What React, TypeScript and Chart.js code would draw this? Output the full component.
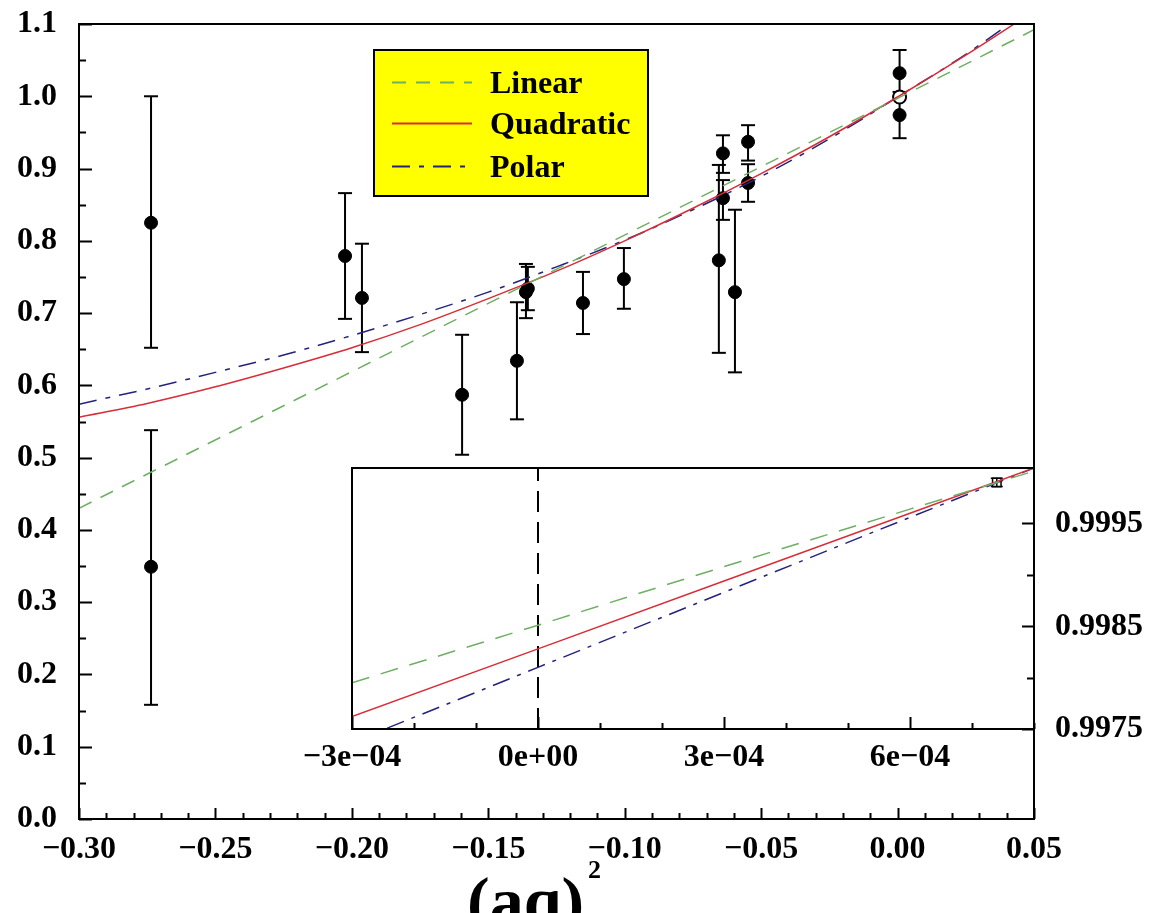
import React, { useEffect, useRef } from "react";
import { Chart, registerables } from "chart.js";
Chart.register(...registerables);

// ---------------- Data ----------------
// Main panel fit curves
const curveX = [-0.300, -0.275, -0.250, -0.225, -0.200, -0.175, -0.150, -0.125, -0.100, -0.075, -0.050, -0.025, 0.000, 0.025, 0.050];
const quadraticY = [0.556, 0.575, 0.598, 0.624, 0.652, 0.684, 0.720, 0.758, 0.800, 0.845, 0.893, 0.944, 0.999, 1.057, 1.118];
const polarY = [0.574, 0.595, 0.618, 0.642, 0.669, 0.698, 0.729, 0.764, 0.801, 0.843, 0.889, 0.941, 0.999, 1.058, 1.125];
const linearX = [-0.30, 0.00, 0.05];
const linearY = [0.430, 0.997, 1.092];

// Main panel data points with error bars
const pointX = [-0.2736, -0.2736, -0.2025, -0.1963, -0.1596, -0.1395, -0.1362, -0.1355, -0.1153, -0.1003, -0.0655, -0.0640, -0.0640, -0.0596, -0.0548, -0.0548, 0.00074, 0.00074];
const pointY = [0.825, 0.349, 0.779, 0.721, 0.587, 0.634, 0.729, 0.734, 0.714, 0.747, 0.773, 0.921, 0.859, 0.729, 0.937, 0.880, 1.032, 0.974];
const pointLo = [0.652, 0.158, 0.692, 0.646, 0.504, 0.553, 0.693, 0.704, 0.671, 0.706, 0.645, 0.894, 0.829, 0.618, 0.911, 0.854, 1.000, 0.942];
const pointHi = [1.000, 0.538, 0.866, 0.796, 0.670, 0.715, 0.768, 0.764, 0.757, 0.790, 0.905, 0.946, 0.884, 0.843, 0.960, 0.906, 1.064, 1.006];
const openX = [0.00074];
const openY = [0.999];

// Inset panel
const insetX = [-0.0003, 0.0000, 0.0003, 0.0006, 0.0008];
const insetLinearY = [0.99795, 0.99851, 0.99908, 0.99964, 1.00001];
const insetQuadraticY = [0.99762, 0.99828, 0.99894, 0.99960, 1.00004];
const insetPolarY = [0.99737, 0.99810, 0.99883, 0.99956, 1.00004];
const insetPointX = [0.00074];
const insetPointY = [0.99990];
const insetPointLo = [0.99986];
const insetPointHi = [0.99994];
const insetZeroLineY = [0.9975, 1.00004];

// Ticks and labels
const mainXTicks = [-0.30, -0.25, -0.20, -0.15, -0.10, -0.05, 0.00, 0.05];
const mainXTickLabels = ["\u22120.30", "\u22120.25", "\u22120.20", "\u22120.15", "\u22120.10", "\u22120.05", "0.00", "0.05"];
const mainYTicks = [0.0, 0.1, 0.2, 0.3, 0.4, 0.5, 0.6, 0.7, 0.8, 0.9, 1.0, 1.1];
const mainYTickLabels = ["0.0", "0.1", "0.2", "0.3", "0.4", "0.5", "0.6", "0.7", "0.8", "0.9", "1.0", "1.1"];
const insetXTicks = [-0.0003, 0.0, 0.0003, 0.0006];
const insetXTickLabels = ["\u22123e\u221204", "0e+00", "3e\u221204", "6e\u221204"];
const insetYTicks = [0.9975, 0.9985, 0.9995];
const insetYTickLabels = ["0.9975", "0.9985", "0.9995"];
const insetYMinorTicks = [0.998, 0.999];
const legendLabels = ["Linear", "Quadratic", "Polar"];
const axisTitle = "(aq)";
const axisTitleSup = "2";

// ---------------- Styles ----------------
const FONT = '"Liberation Serif", "Times New Roman", serif';
const GREEN = "rgb(110,175,100)";
const RED = "rgb(215,45,55)";
const BLUE = "rgb(35,35,125)";

const pts = (xs: number[], ys: number[]) => xs.map((x, i) => ({ x, y: ys[i] }));
const errPts = (xs: number[], lo: number[], hi: number[]) => {
  const out: { x: number; y: number }[] = [];
  xs.forEach((x, i) => {
    out.push({ x, y: lo[i] });
    out.push({ x, y: hi[i] });
    out.push({ x, y: NaN });
  });
  return out;
};

const fixSize = (prop: "width" | "height", size: number) => (s: any) => {
  s[prop] = size;
  s.paddingTop = 0;
  s.paddingBottom = 0;
  s.paddingLeft = 0;
  s.paddingRight = 0;
};

type TickSpec = { scale: string; side: "bottom" | "left" | "right"; major: number[]; minor: number[]; majorLen: number; minorLen: number };

const frameTicksPlugin = (specs: TickSpec[], fillWhite: boolean) => ({
  id: "frameTicks",
  beforeDraw(chart: any) {
    if (!fillWhite) return;
    const a = chart.chartArea;
    const ctx = chart.ctx;
    ctx.save();
    ctx.fillStyle = "#fff";
    ctx.fillRect(a.left, a.top, a.right - a.left, a.bottom - a.top);
    ctx.restore();
  },
  afterDraw(chart: any) {
    const a = chart.chartArea;
    const ctx = chart.ctx;
    ctx.save();
    ctx.strokeStyle = "#000";
    ctx.lineWidth = 2;
    ctx.strokeRect(a.left, a.top, a.right - a.left, a.bottom - a.top);
    ctx.beginPath();
    specs.forEach((s) => {
      const sc = chart.scales[s.scale];
      const draw = (v: number, len: number) => {
        const p = Math.round(sc.getPixelForValue(v)) + 0.5;
        if (s.side === "bottom") {
          ctx.moveTo(p, a.bottom);
          ctx.lineTo(p, a.bottom - len);
        } else if (s.side === "left") {
          ctx.moveTo(a.left, p);
          ctx.lineTo(a.left + len, p);
        } else {
          ctx.moveTo(a.right, p);
          ctx.lineTo(a.right - len, p);
        }
      };
      s.major.forEach((v) => draw(v, s.majorLen));
      s.minor.forEach((v) => draw(v, s.minorLen));
    });
    ctx.lineWidth = 2;
    ctx.stroke();
    ctx.restore();
  },
});

const legendPlugin = {
  id: "boxLegend",
  afterDraw(chart: any) {
    const ctx = chart.ctx;
    ctx.save();
    ctx.fillStyle = "#ffff00";
    ctx.fillRect(374, 50, 274, 146);
    ctx.strokeStyle = "#000";
    ctx.lineWidth = 2;
    ctx.strokeRect(374, 50, 274, 146);
    const rows = [82, 123, 166];
    legendLabels.forEach((label, i) => {
      const ds = chart.data.datasets[i];
      ctx.beginPath();
      ctx.setLineDash(ds.borderDash || []);
      ctx.strokeStyle = ds.borderColor;
      ctx.lineWidth = 2;
      ctx.moveTo(392, rows[i] + 0.5);
      ctx.lineTo(472, rows[i] + 0.5);
      ctx.stroke();
      ctx.setLineDash([]);
      ctx.fillStyle = "#000";
      ctx.font = `bold 32px ${FONT}`;
      ctx.textAlign = "left";
      ctx.textBaseline = "alphabetic";
      ctx.fillText(label, 490, rows[i] + 11);
    });
    // axis title
    ctx.fillStyle = "#000";
    ctx.font = `bold 68px ${FONT}`;
    ctx.textAlign = "left";
    ctx.textBaseline = "alphabetic";
    ctx.fillText(axisTitle, 467, 924);
    const w = ctx.measureText(axisTitle).width;
    ctx.font = `bold 26px ${FONT}`;
    ctx.fillText(axisTitleSup, 467 + w + 4, 878);
    ctx.restore();
  },
};

const tickFont = { family: FONT, size: 32, weight: "bold" as const };

function range(a: number, b: number, step: number, skip: number[]) {
  const out: number[] = [];
  const n = Math.round((b - a) / step);
  for (let i = 0; i <= n; i++) {
    const v = a + i * step;
    if (!skip.some((s) => Math.abs(s - v) < step / 10)) out.push(v);
  }
  return out;
}

export default function App() {
  const mainRef = useRef<HTMLCanvasElement | null>(null);
  const insetRef = useRef<HTMLCanvasElement | null>(null);

  useEffect(() => {
    const mainChart = new Chart(mainRef.current as HTMLCanvasElement, {
      type: "scatter",
      data: {
        datasets: [
          { label: "Linear", data: pts(linearX, linearY), showLine: true, borderColor: GREEN, borderWidth: 1.5, borderDash: [14, 10], pointRadius: 0 },
          { label: "Quadratic", data: pts(curveX, quadraticY), showLine: true, borderColor: RED, borderWidth: 1.5, pointRadius: 0, cubicInterpolationMode: "monotone" },
          { label: "Polar", data: pts(curveX, polarY), showLine: true, borderColor: BLUE, borderWidth: 1.5, borderDash: [18, 9, 5, 9], pointRadius: 0, cubicInterpolationMode: "monotone" },
          { label: "open", data: pts(openX, openY), pointRadius: 6.5, pointBackgroundColor: "#fff", pointBorderColor: "#000", pointBorderWidth: 2 },
          { label: "points", data: pts(pointX, pointY), pointRadius: 6.5, pointBackgroundColor: "#000", pointBorderColor: "#000", pointBorderWidth: 1 },
          { label: "errors", data: errPts(pointX, pointLo, pointHi), showLine: true, borderColor: "#000", borderWidth: 2, pointStyle: "line", pointRadius: 7, pointBorderColor: "#000", pointBorderWidth: 2, spanGaps: false },
        ] as any,
      },
      options: {
        animation: false,
        responsive: false,
        devicePixelRatio: 1,
        layout: { padding: { left: 0, top: 24, right: 118, bottom: 0 } },
        plugins: { legend: { display: false }, tooltip: { enabled: false } },
        scales: {
          x: {
            type: "linear",
            min: -0.3,
            max: 0.05,
            afterBuildTicks: (s: any) => { s.ticks = mainXTicks.map((v) => ({ value: v })); },
            afterFit: fixSize("height", 94),
            grid: { display: false, drawTicks: false },
            border: { display: false },
            ticks: { padding: 12, color: "#000", font: tickFont, maxRotation: 0, autoSkip: false, callback: (_v: any, i: number) => mainXTickLabels[i] },
          },
          y: {
            type: "linear",
            min: 0,
            max: 1.1,
            afterBuildTicks: (s: any) => { s.ticks = mainYTicks.map((v) => ({ value: v })); },
            afterFit: fixSize("width", 79),
            grid: { display: false, drawTicks: false },
            border: { display: false },
            ticks: { padding: 22, color: "#000", font: tickFont, autoSkip: false, callback: (_v: any, i: number) => mainYTickLabels[i] },
          },
        },
      } as any,
      plugins: [
        frameTicksPlugin(
          [
            { scale: "x", side: "bottom", major: mainXTicks, minor: range(-0.3, 0.05, 0.01, mainXTicks), majorLen: 11, minorLen: 6 },
            { scale: "y", side: "left", major: mainYTicks, minor: range(0.05, 1.05, 0.1, []), majorLen: 13, minorLen: 7 },
          ],
          false
        ),
        legendPlugin,
      ],
    });

    const insetChart = new Chart(insetRef.current as HTMLCanvasElement, {
      type: "scatter",
      data: {
        datasets: [
          { label: "Linear", data: pts(insetX, insetLinearY), showLine: true, borderColor: GREEN, borderWidth: 1.5, borderDash: [18, 12], pointRadius: 0 },
          { label: "Quadratic", data: pts(insetX, insetQuadraticY), showLine: true, borderColor: RED, borderWidth: 1.5, pointRadius: 0 },
          { label: "Polar", data: pts(insetX, insetPolarY), showLine: true, borderColor: BLUE, borderWidth: 1.5, borderDash: [18, 8, 4, 8], pointRadius: 0 },
          { label: "zero", data: pts([0, 0], insetZeroLineY), showLine: true, borderColor: "#000", borderWidth: 2, borderDash: [21, 10], pointRadius: 0 },
          { label: "open", data: pts(insetPointX, insetPointY), pointStyle: "rect", pointRadius: 6, pointBackgroundColor: "rgba(255,255,255,0)", pointBorderColor: "#000", pointBorderWidth: 1.5 },
          { label: "err", data: errPts(insetPointX, insetPointLo, insetPointHi), showLine: true, borderColor: "#000", borderWidth: 1.5, pointStyle: "line", pointRadius: 6, pointBorderColor: "#000", pointBorderWidth: 1.5 },
        ] as any,
      },
      options: {
        animation: false,
        responsive: false,
        devicePixelRatio: 1,
        layout: { padding: { left: 72, top: 28, right: 0, bottom: 0 } },
        plugins: { legend: { display: false }, tooltip: { enabled: false } },
        scales: {
          x: {
            type: "linear",
            min: -0.0003,
            max: 0.0008,
            afterBuildTicks: (s: any) => { s.ticks = insetXTicks.map((v) => ({ value: v })); },
            afterFit: fixSize("height", 71),
            grid: { display: false, drawTicks: false },
            border: { display: false },
            ticks: { padding: 10, color: "#000", font: tickFont, maxRotation: 0, autoSkip: false, callback: (_v: any, i: number) => insetXTickLabels[i] },
          },
          y: {
            type: "linear",
            position: "right",
            min: 0.9975,
            max: 1.00004,
            afterBuildTicks: (s: any) => { s.ticks = insetYTicks.map((v) => ({ value: v })); },
            afterFit: fixSize("width", 118),
            grid: { display: false, drawTicks: false },
            border: { display: false },
            ticks: { padding: 21, color: "#000", font: tickFont, autoSkip: false, callback: (_v: any, i: number) => insetYTickLabels[i] },
          },
        },
      } as any,
      plugins: [
        frameTicksPlugin(
          [
            { scale: "x", side: "bottom", major: insetXTicks, minor: range(-0.0003, 0.0008, 0.0001, insetXTicks), majorLen: 12, minorLen: 6 },
            { scale: "y", side: "right", major: insetYTicks, minor: insetYMinorTicks, majorLen: 12, minorLen: 7 },
          ],
          true
        ),
      ],
    });

    return () => {
      mainChart.destroy();
      insetChart.destroy();
    };
  }, []);

  return (
    <div style={{ position: "absolute", left: 0, top: 0, width: 1152, height: 913, overflow: "hidden", background: "#fff" }}>
      <canvas ref={mainRef} width={1152} height={913} style={{ position: "absolute", left: 0, top: 0, width: 1152, height: 913 }} />
      <canvas ref={insetRef} width={872} height={360} style={{ position: "absolute", left: 280, top: 440, width: 872, height: 360 }} />
    </div>
  );
}
